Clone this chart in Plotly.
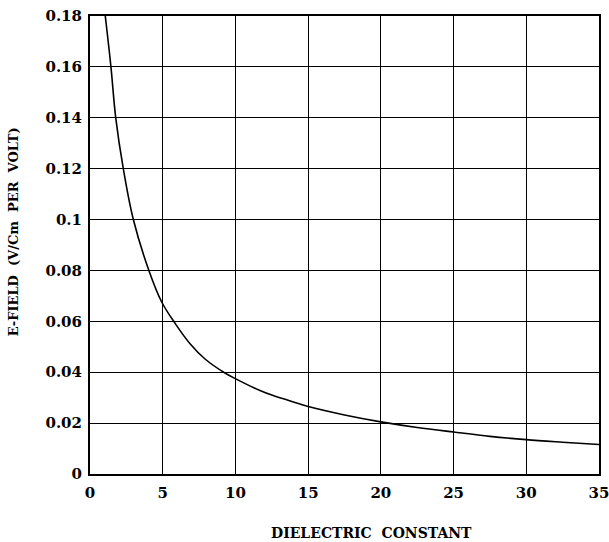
import plotly.graph_objects as go

dielectric = [1.05, 1.44, 1.77, 2.29, 2.98, 4.08, 4.93, 5.85, 6.88, 7.91, 9.28, 10.09, 11.69, 12.5,
              14.44, 15.0, 17.5, 20.0, 22.5, 25.0, 27.5, 30.0, 32.5, 35.0]
efield = [0.18, 0.16, 0.14, 0.12, 0.10, 0.0795, 0.0676, 0.0592, 0.0512, 0.0452, 0.0397, 0.0372, 0.0328, 0.0310,
          0.0275, 0.0265, 0.0232, 0.0205, 0.0183, 0.0165, 0.0148, 0.0135, 0.0125, 0.0116]

x_ticks = [0, 5, 10, 15, 20, 25, 30, 35]
y_ticks = [0, 0.02, 0.04, 0.06, 0.08, 0.1, 0.12, 0.14, 0.16, 0.18]
y_tick_text = ["0", "0.02", "0.04", "0.06", "0.08", "0.1", "0.12", "0.14", "0.16", "0.18"]

x_title = "DIELECTRIC  CONSTANT"
y_title = "E-FIELD  (V/Cm  PER  VOLT)"

font_family = "DejaVu Serif, Liberation Serif, serif"

fig = go.Figure()
fig.add_trace(go.Scatter(
    x=dielectric, y=efield, mode="lines",
    line=dict(color="black", width=1.6, shape="spline", smoothing=1.0),
    showlegend=False,
))

fig.update_layout(
    width=609, height=542,
    margin=dict(l=90, r=10, t=16, b=68),
    paper_bgcolor="white", plot_bgcolor="white",
    font=dict(family=font_family, color="black"),
    xaxis=dict(
        range=[0, 35], tickvals=x_ticks, ticktext=[str(v) for v in x_ticks],
        showgrid=True, gridcolor="black", gridwidth=1.3,
        showline=True, linecolor="black", linewidth=2, mirror=True,
        ticks="outside", ticklen=4, tickcolor="rgba(0,0,0,0)", zeroline=False,
        automargin=False, ticklabeloverflow="allow",
        tickfont=dict(size=15, family=font_family, weight="bold"),
    ),
    yaxis=dict(
        range=[0, 0.18], tickvals=y_ticks, ticktext=y_tick_text,
        showgrid=True, gridcolor="black", gridwidth=1.3,
        showline=True, linecolor="black", linewidth=2, mirror=True,
        ticks="outside", ticklen=3, tickcolor="rgba(0,0,0,0)", zeroline=False,
        automargin=False, ticklabeloverflow="allow",
        tickfont=dict(size=15, family=font_family, weight="bold"),
    ),
    annotations=[
        dict(text=x_title, xref="paper", yref="paper", x=0.554, y=-0.129,
             xanchor="center", yanchor="middle", showarrow=False,
             font=dict(size=14, family=font_family, weight="bold")),
        dict(text=y_title, xref="paper", yref="paper", x=-0.151, y=0.528,
             xanchor="center", yanchor="middle", showarrow=False, textangle=-90,
             font=dict(size=13, family=font_family, weight="bold")),
    ],
)

fig.write_html("out.html")
